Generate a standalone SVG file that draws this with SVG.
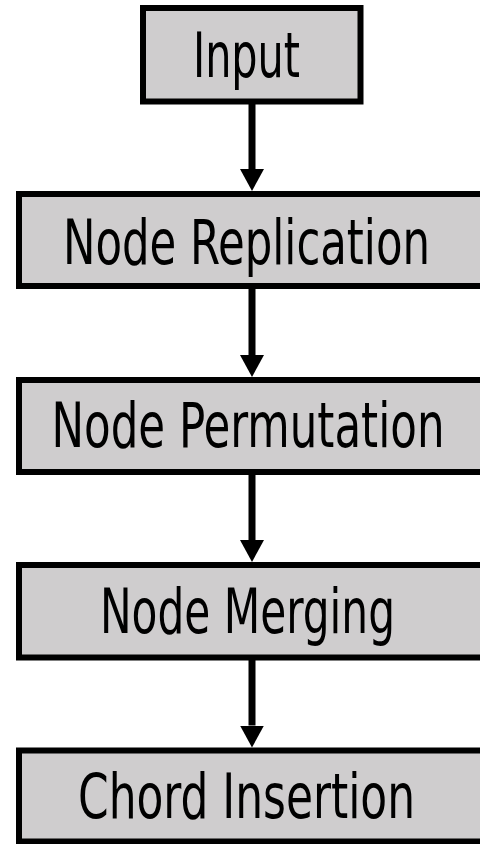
<svg xmlns="http://www.w3.org/2000/svg" width="480" height="844" viewBox="0 0 480 844">
  <style>
    .box { fill: #cfcdce; stroke: #000; stroke-width: 6; }
    .label { font-family: "DejaVu Sans Condensed", "DejaVu Sans", sans-serif; font-stretch: condensed; font-size: 62px; fill: #000; text-anchor: middle; }
    .edge { stroke: #000; stroke-width: 7; fill: none; marker-end: url(#head); }
  </style>
  <defs>
    <marker id="head" viewBox="0 0 22 24" markerWidth="22" markerHeight="24" refX="0" refY="12" orient="auto" markerUnits="userSpaceOnUse">
      <path d="M0,0 L22,12 L0,24 Z" fill="#000"/>
    </marker>
  </defs>
  <rect width="480" height="844" fill="#fff"/>

  <!-- connectors between stages -->
  <g id="connectors">
    <line class="edge" x1="252" y1="104" x2="252" y2="169"/>
    <line class="edge" x1="252" y1="289" x2="252" y2="355"/>
    <line class="edge" x1="252" y1="474" x2="252" y2="540"/>
    <line class="edge" x1="252" y1="660" x2="252" y2="725.5"/>
  </g>

  <g id="input">
    <rect class="box" x="143" y="8" width="217.5" height="93.5"/>
    <text class="label" x="246.5" y="77" textLength="107" lengthAdjust="spacingAndGlyphs">Input</text>
  </g>

  <g id="node-replication">
    <rect class="box" x="19" y="194" width="466" height="92"/>
    <text class="label" x="246.5" y="264" textLength="367" lengthAdjust="spacingAndGlyphs">Node Replication</text>
  </g>

  <g id="node-permutation">
    <rect class="box" x="19" y="380" width="466" height="92"/>
    <text class="label" x="248" y="447" textLength="393" lengthAdjust="spacingAndGlyphs">Node Permutation</text>
  </g>

  <g id="node-merging">
    <rect class="box" x="19" y="565" width="466" height="92.5"/>
    <text class="label" x="247.5" y="633" textLength="295" lengthAdjust="spacingAndGlyphs">Node Merging</text>
  </g>

  <g id="chord-insertion">
    <rect class="box" x="19" y="750.5" width="466" height="91"/>
    <text class="label" x="246.5" y="818" textLength="337" lengthAdjust="spacingAndGlyphs">Chord Insertion</text>
  </g>
</svg>
